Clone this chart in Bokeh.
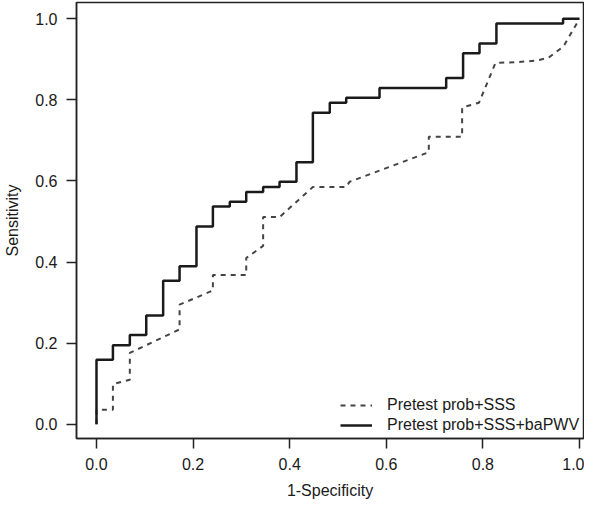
from bokeh.plotting import figure
from bokeh.models import Range1d, FixedTicker, PrintfTickFormatter, Legend, LegendItem
from bokeh.embed import file_html
from bokeh.resources import INLINE

# ROC curve for "Pretest prob+SSS+baPWV" (step points)
full_fpr = [0.0, 0.0, 0.034, 0.069, 0.103, 0.138, 0.172, 0.207, 0.241, 0.276, 0.310,
            0.345, 0.379, 0.414, 0.448, 0.483, 0.517, 0.586, 0.724, 0.759, 0.793,
            0.828, 0.966, 1.0]
full_tpr = [0.0, 0.159, 0.195, 0.220, 0.268, 0.354, 0.390, 0.488, 0.537, 0.549, 0.573,
            0.585, 0.598, 0.646, 0.768, 0.793, 0.805, 0.829, 0.854, 0.915, 0.939,
            0.988, 1.0, 1.0]

# ROC curve for "Pretest prob+SSS" (vertices)
base_fpr = [0.0, 0.0, 0.034, 0.034, 0.069, 0.069, 0.172, 0.172, 0.241, 0.241, 0.310,
            0.310, 0.345, 0.345, 0.379, 0.448, 0.517, 0.524, 0.688, 0.688, 0.757,
            0.757, 0.792, 0.826, 0.871, 0.912, 0.936, 0.967, 1.0]
base_tpr = [0.0, 0.036, 0.036, 0.099, 0.110, 0.176, 0.234, 0.295, 0.330, 0.368, 0.368,
            0.410, 0.440, 0.511, 0.511, 0.585, 0.585, 0.598, 0.671, 0.709, 0.709,
            0.781, 0.793, 0.891, 0.893, 0.897, 0.904, 0.932, 1.0]

tick_values = [0.0, 0.2, 0.4, 0.6, 0.8, 1.0]
series_names = ["Pretest prob+SSS", "Pretest prob+SSS+baPWV"]
x_title = "1-Specificity"
y_title = "Sensitivity"

FONT = "Liberation Sans"
TXT = "#1a1a1a"

p = figure(width=584, height=504, output_backend="svg", toolbar_location=None,
           x_range=Range1d(-0.0414, 1.0083), y_range=Range1d(-0.035, 1.04),
           min_border_left=76, min_border_right=1, min_border_top=2, min_border_bottom=66)
p.grid.visible = False
p.outline_line_color = "#222222"
p.outline_line_width = 1.5
p.background_fill_color = "white"
p.border_fill_color = "white"

for ax in (p.xaxis[0], p.yaxis[0]):
    ax.ticker = FixedTicker(ticks=tick_values)
    ax.formatter = PrintfTickFormatter(format="%.1f")
    ax.minor_tick_line_color = None
    ax.major_tick_in = 0
    ax.major_tick_out = 10
    ax.major_tick_line_width = 1.5
    ax.major_tick_line_color = "#222222"
    ax.axis_line_width = 1.5
    ax.axis_line_color = "#222222"
    ax.major_label_text_font = FONT
    ax.major_label_text_font_size = "16px"
    ax.major_label_text_color = TXT
    ax.axis_label_text_font = FONT
    ax.axis_label_text_font_size = "16px"
    ax.axis_label_text_font_style = "normal"
    ax.axis_label_text_color = TXT

p.xaxis.axis_label = x_title
p.yaxis.axis_label = y_title
p.xaxis.major_label_standoff = 9
p.xaxis.axis_label_standoff = 9
p.yaxis.major_label_standoff = 9
p.yaxis.axis_label_standoff = 11

r_base = p.line(base_fpr, base_tpr, line_color="#444444", line_width=2, line_dash="5 5")
r_full = p.step(full_fpr, full_tpr, mode="after", line_color="#1a1a1a", line_width=2.5)

legend = Legend(items=[LegendItem(label=series_names[0], renderers=[r_base]),
                       LegendItem(label=series_names[1], renderers=[r_full])],
                location=(264, 4))
legend.border_line_color = None
legend.background_fill_alpha = 0
legend.padding = 0
legend.margin = 0
legend.spacing = 2
legend.glyph_width = 32
legend.glyph_height = 16
legend.label_height = 16
legend.label_standoff = 15
legend.label_text_font = FONT
legend.label_text_font_size = "16px"
legend.label_text_color = TXT
p.add_layout(legend)

open("out.html", "w").write(file_html(p, INLINE))
